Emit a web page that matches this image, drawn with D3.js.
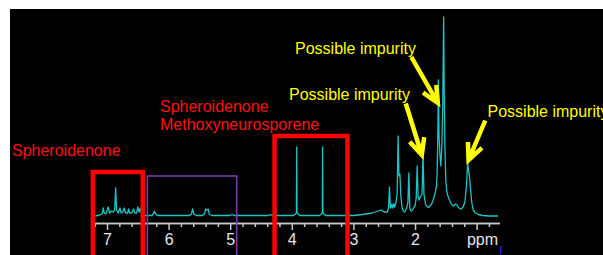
<!DOCTYPE html>
<html>
<head>
<meta charset="utf-8">
<script src="https://cdn.jsdelivr.net/npm/d3@7"></script>
<style>
  body { margin: 0; background: #fff; }
  svg { display: block; }
  text { font-family: "Liberation Sans", Arial, sans-serif; }
</style>
</head>
<body>
<svg id="nmr_svg" width="603" height="255"></svg>
<script>
// Spectrum data: chemical shift (ppm) and intensity (a.u.)
const shiftPpm = [
  7.19, 7.12, 7.08, 7.06, 7.045, 7.02, 6.98, 6.96, 6.93, 6.90, 6.875, 6.86, 6.845, 6.82, 6.79, 6.77,
  6.745, 6.72, 6.70, 6.665, 6.65, 6.63, 6.60, 6.57, 6.55, 6.52, 6.50, 6.48, 6.46, 6.44, 6.42, 6.38,
  6.27, 6.25, 6.23, 6.21, 6.18,
  5.66, 5.63, 5.61, 5.59, 5.55,
  5.45, 5.41, 5.40, 5.38, 5.36, 5.34, 5.30,
  5.00, 4.97, 4.94,
  4.38, 4.35, 4.32,
  3.97, 3.935, 3.925, 3.92, 3.915, 3.90, 3.87,
  3.55, 3.515, 3.505, 3.50, 3.495, 3.48, 3.45,
  3.00, 2.85, 2.70, 2.60, 2.55, 2.50, 2.45,
  2.43, 2.415, 2.40, 2.385, 2.375, 2.36, 2.345, 2.33, 2.31, 2.29, 2.275, 2.26, 2.245, 2.23, 2.21, 2.19,
  2.165, 2.135, 2.115, 2.10, 2.085, 2.065, 2.04, 2.015, 2.00, 1.98, 1.965, 1.95, 1.935, 1.905, 1.885,
  1.87, 1.855, 1.83, 1.80, 1.77, 1.73, 1.70, 1.67, 1.65, 1.64, 1.63, 1.62, 1.61, 1.595, 1.58, 1.565,
  1.55, 1.535, 1.525, 1.515, 1.50, 1.485, 1.465, 1.44, 1.41, 1.375, 1.34, 1.32, 1.29, 1.25, 1.22, 1.19,
  1.165, 1.145, 1.13, 1.12, 1.10, 1.08, 1.055, 1.02, 0.97, 0.90, 0.80, 0.65
];
const intensity = [
  0, 1, 2, 8, 3, 2, 9, 3, 5, 4, 6, 28, 6, 3, 8, 3,
  4, 8, 3, 3, 7, 3, 3, 7, 3, 3, 9, 4, 8, 3, 1, 0.5,
  0.5, 2, 5, 2, 0.5,
  0.5, 2, 7, 2, 0.5,
  0.5, 3, 7, 6, 7, 2, 0.5,
  0.5, 1.5, 0.5,
  0.5, 1.5, 0.5,
  0.5, 2, 4, 69, 4, 2, 0.5,
  0.5, 2, 4, 69, 4, 2, 0.5,
  0.5, 1.5, 3, 5, 6, 4, 4,
  8, 29, 8, 9, 12, 8, 12, 9, 13, 22, 80, 40, 42, 20, 8, 5,
  4, 8, 14, 43, 8, 5, 6, 9, 10, 18, 50, 20, 16, 20, 22,
  63, 22, 12, 9, 9, 12, 17, 24, 30, 45, 80, 136, 80, 60, 50, 70,
  110, 199, 120, 70, 35, 25, 20, 16, 12, 10, 12, 11, 8, 7, 9, 14,
  30, 53, 45, 42, 28, 14, 6, 3, 1.5, 0.5, 0, 0
];

// Axis ticks and labels
const majorTicks = [7, 6, 5, 4, 3, 2, 1];
const majorLabels = ["7", "6", "5", "4", "3", "2", ""];
const minorTicks = [7.2, 6.8, 6.6, 6.4, 6.2, 5.8, 5.6, 5.4, 5.2, 4.8, 4.6, 4.4, 4.2, 3.8, 3.6, 3.4,
                    3.2, 2.8, 2.6, 2.4, 2.2, 1.8, 1.6, 1.4, 1.2, 0.8];
const unitLabel = "ppm";

// Annotation texts
const impurityLabel = "Possible impurity";
const spheroLabel = "Spheroidenone";
const methoxyLabel = "Methoxyneurosporene";

const svg = d3.select("#nmr_svg");

// black plot background
svg.append("rect")
    .attr("x", 10).attr("y", 9)
    .attr("width", 593).attr("height", 246)
    .attr("fill", "#000");

// Scales (ppm axis is reversed)
const xScale = d3.scaleLinear().domain([7.2, 0.63]).range([94.7, 499.4]);
const yScale = d3.scaleLinear().domain([0, 200]).range([216, 16]);

// Spectrum line
const spectrum = shiftPpm.map((p, i) => ({ ppm: p, val: intensity[i] }));
svg.append("path")
    .datum(spectrum)
    .attr("fill", "none")
    .attr("stroke", "#1cc4c4")
    .attr("stroke-width", 1.3)
    .attr("stroke-linejoin", "round")
    .attr("d", d3.line()
        .x(d => xScale(d.ppm))
        .y(d => yScale(d.val)));

// Axis: minor ticks
const axisY = 223;
const minorAxis = svg.append("g")
    .attr("transform", `translate(0, ${axisY})`)
    .call(d3.axisBottom(xScale).tickValues(minorTicks).tickSize(4).tickSizeOuter(0).tickFormat(""));
// Axis: major ticks with labels
const majorAxis = svg.append("g")
    .attr("transform", `translate(0, ${axisY})`)
    .call(d3.axisBottom(xScale).tickValues(majorTicks).tickSize(7).tickSizeOuter(0)
        .tickFormat((d, i) => majorLabels[i]));

svg.selectAll(".domain, .tick line")
    .attr("stroke", "#c8c8c8")
    .attr("stroke-width", 1.5);
majorAxis.selectAll(".tick text")
    .attr("y", 22).attr("dy", null)
    .attr("fill", "#e6e6e6")
    .attr("font-size", 16)
    .attr("font-family", "Liberation Sans, Arial, sans-serif");

svg.append("text")
    .attr("x", 498).attr("y", axisY + 22)
    .attr("text-anchor", "end")
    .attr("fill", "#e6e6e6")
    .attr("font-size", 16)
    .text(unitLabel);

// small blue marker at the axis end
svg.append("line")
    .attr("x1", 500.7).attr("x2", 500.7)
    .attr("y1", 246).attr("y2", 254)
    .attr("stroke", "#1a2bd8").attr("stroke-width", 1.3);

// Region boxes
function regionBox(p0, p1, top, color, width) {
    svg.append("rect")
        .attr("x", xScale(p0))
        .attr("y", yScale(top))
        .attr("width", xScale(p1) - xScale(p0))
        .attr("height", 300)
        .attr("fill", "none")
        .attr("stroke", color)
        .attr("stroke-width", width);
}
regionBox(7.23, 6.42, 44, "#ff0000", 4.5);
regionBox(6.345, 4.895, 40, "#7a3aa8", 1.6);
regionBox(4.28, 3.096, 80, "#ff0000", 4.5);

// Red labels
const red = "#ff1010";
svg.append("text").attr("x", 12).attr("y", 156).attr("fill", red).attr("font-size", 16).text(spheroLabel);
svg.append("text").attr("x", 160).attr("y", 111.5).attr("fill", red).attr("font-size", 16).text(spheroLabel);
svg.append("text").attr("x", 160).attr("y", 130).attr("fill", red).attr("font-size", 16).text(methoxyLabel);

// Yellow arrows pointing to impurity peaks
const yellow = "#ffff00";
function arrow(tailPpm, tailVal, tipPpm, tipVal) {
    const tx = xScale(tailPpm), ty = yScale(tailVal);
    const px = xScale(tipPpm), py = yScale(tipVal);
    const len = Math.hypot(px - tx, py - ty);
    const ux = (tx - px) / len, uy = (ty - py) / len;
    const a = 25 * Math.PI / 180, L = 18;
    const arm = s => [px + L * (ux * Math.cos(s * a) - uy * Math.sin(s * a)),
                      py + L * (ux * Math.sin(s * a) + uy * Math.cos(s * a))];
    const a1 = arm(1), a2 = arm(-1);
    svg.append("path")
        .attr("d", `M${tx},${ty}L${px},${py}M${a1[0]},${a1[1]}L${px},${py}L${a2[0]},${a2[1]}`)
        .attr("fill", "none")
        .attr("stroke", yellow)
        .attr("stroke-width", 4.5)
        .attr("stroke-linejoin", "miter");
}
arrow(2.06, 159, 1.63, 113);
arrow(2.15, 112.5, 1.89, 61);
arrow(0.86, 95.5, 1.13, 56);

svg.append("text").attr("x", 295).attr("y", 53.5).attr("fill", yellow).attr("font-size", 16).text(impurityLabel);
svg.append("text").attr("x", 289).attr("y", 100).attr("fill", yellow).attr("font-size", 16).text(impurityLabel);
svg.append("text").attr("x", 487.5).attr("y", 117).attr("fill", yellow).attr("font-size", 16).text(impurityLabel);
</script>
</body>
</html>
